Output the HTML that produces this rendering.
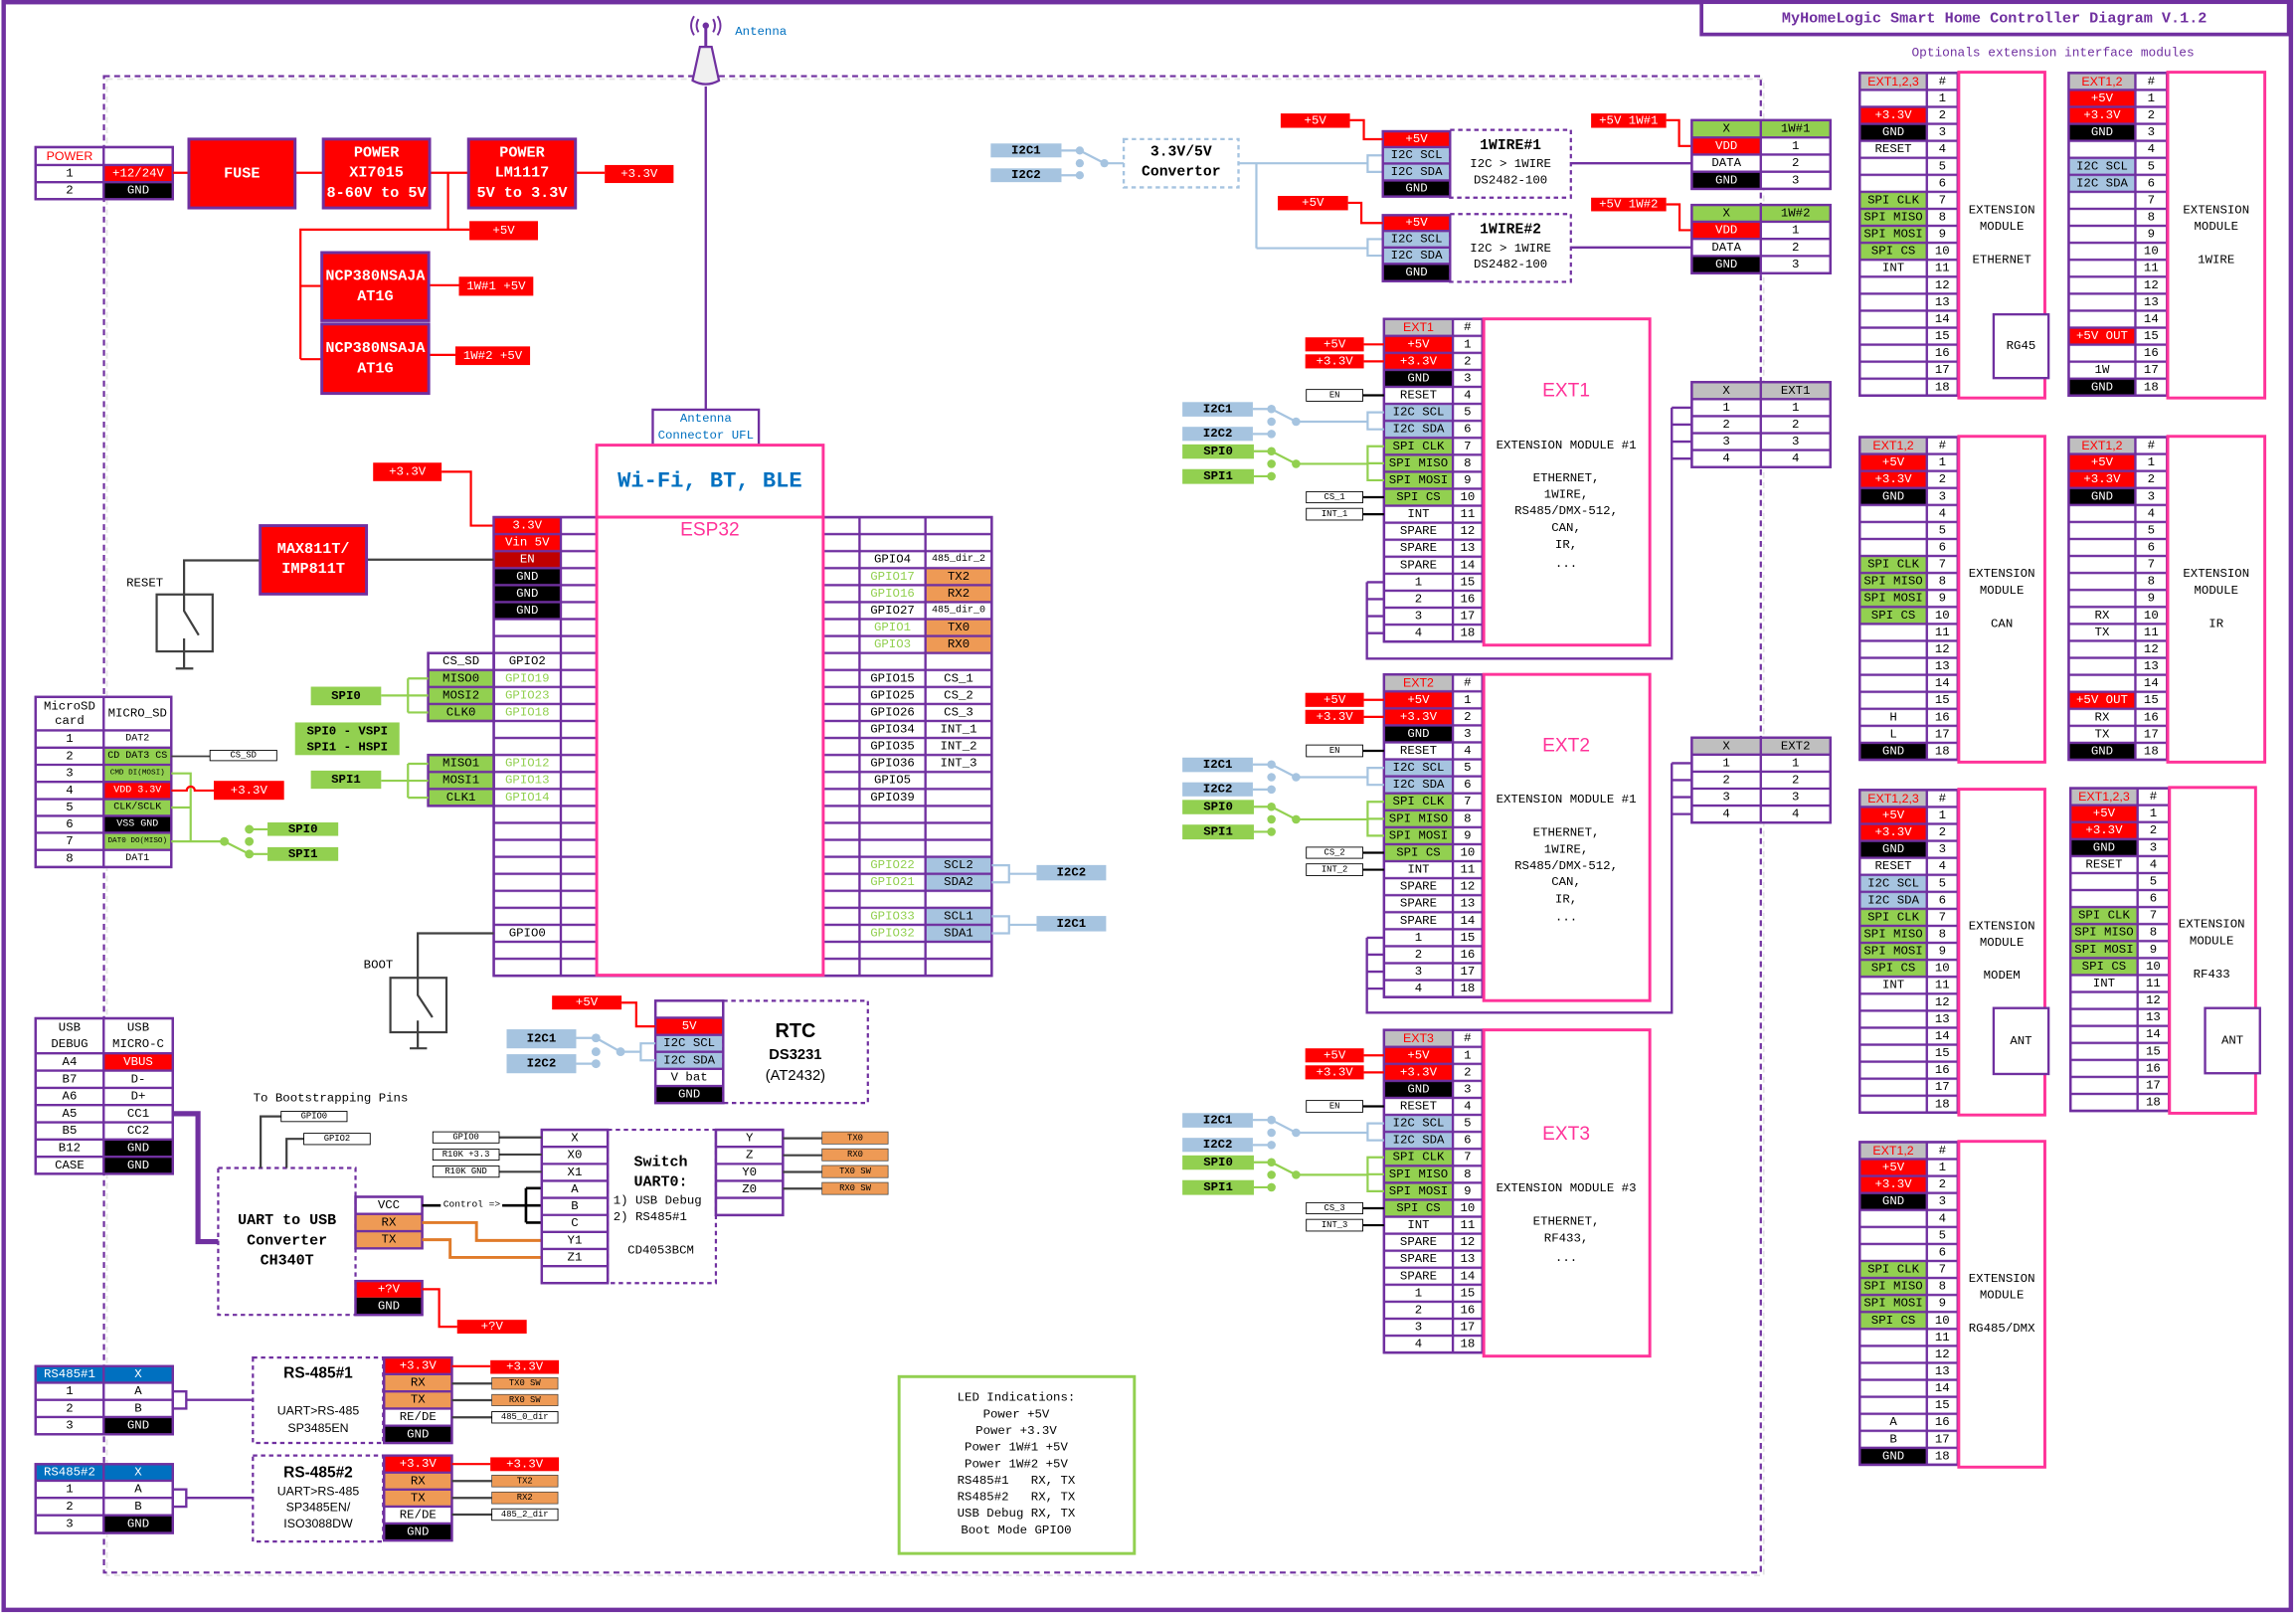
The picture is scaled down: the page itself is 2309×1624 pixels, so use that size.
<!DOCTYPE html>
<html><head><meta charset="utf-8">
<style>
html,body{margin:0;padding:0;background:#fff;}
svg{display:block;}
text{font-family:"Liberation Mono","DejaVu Sans Mono",monospace;font-size:8.4px;text-anchor:middle;dominant-baseline:central;fill:#000;}
.w{fill:#fff}.bd{font-weight:bold}.s6{font-size:6px}.s7{font-size:6.8px}.s5{font-size:5.2px}
.big{font-size:10.3px;font-weight:bold;fill:#fff}
.sans{font-family:"Liberation Sans",sans-serif}
.tr{fill:#f00}.tg{fill:#92D050}.tbl{fill:#0070C0}.tp{fill:#7030A0}.tpk{fill:#FF3399}
.tb{fill:#fff;stroke:#7030A0;stroke-width:1.6}
.ot{fill:none;stroke:#7030A0;stroke-width:1.6}
.pk{fill:#fff;stroke:#FF3399;stroke-width:2}
.pb{fill:#f00;stroke:#7030A0;stroke-width:2}
.r{fill:#f00}.k{fill:#000}.gn{fill:#92D050}.bu{fill:#A6C4E0}.or{fill:#EE9A55}.gy{fill:#BFBFBF}.dr{fill:#C00000}.b2{fill:#0070C0}
.lr{stroke:#f00;stroke-width:1.5;fill:none}
.lb{stroke:#A6C4E0;stroke-width:1.5;fill:none}
.lg{stroke:#92D050;stroke-width:1.5;fill:none}
.lk{stroke:#404040;stroke-width:1.5;fill:none}
.lp{stroke:#7030A0;stroke-width:1.6;fill:none}
.lo{stroke:#E07B2A;stroke-width:2;fill:none}
.dp{fill:none;stroke:#7030A0;stroke-width:1.5;stroke-dasharray:3 2.5}
.lab{stroke:#000;stroke-width:0.6;fill:#fff}
.cb{fill:#A6C4E0}.cg{fill:#92D050}
</style></head><body>
<svg width="2309" height="1624" viewBox="0 0 1568 1103" preserveAspectRatio="none" xmlns="http://www.w3.org/2000/svg">
<defs>
<pattern id="rows" width="4000" height="11.6" patternUnits="userSpaceOnUse">
<rect width="4000" height="0.8" fill="#7030A0"/><rect y="10.8" width="4000" height="0.8" fill="#7030A0"/>
</pattern>
</defs>
<rect width="1568" height="1103" fill="#fff"/>
<!-- frames -->
<rect x="2.5" y="1.5" width="1562" height="1098" fill="none" stroke="#7030A0" stroke-width="3"/>
<rect x="73" y="54" width="1131.5" height="1022" fill="none" stroke="#e4e4e4" stroke-width="1.2" stroke-dasharray="4 3"/>
<rect x="71" y="52" width="1131.5" height="1022" fill="none" stroke="#7030A0" stroke-width="1.5" stroke-dasharray="4 3"/>
<!-- title -->
<rect x="1162" y="1.5" width="401" height="22" fill="#fff" stroke="#7030A0" stroke-width="2.5"/>
<text x="1362" y="12.5" class="bd tp" style="font-size:10.3px">MyHomeLogic Smart Home Controller Diagram V.1.2</text>
<text x="1402" y="36" class="tp" style="font-size:8.7px">Optionals extension interface modules</text>

<!-- POWER section -->
<rect class="tb" x="24.3" y="100.5" width="93.7" height="35.5"/>
<rect class="r" x="70.8" y="112.7" width="47.2" height="11.7"/>
<rect class="k" x="70.8" y="124.4" width="47.2" height="11.6"/>
<path class="lp" d="M24.3 112.7H118M24.3 124.4H118M70.8 100.5V136"/>
<rect class="ot" x="24.3" y="100.5" width="93.7" height="35.5"/>
<text x="47.5" y="106.6" class="tr sans">POWER</text>
<text x="47.5" y="118.5">1</text><text x="94.4" y="118.5" class="w">+12/24V</text>
<text x="47.5" y="130.2">2</text><text x="94.4" y="130.2" class="w">GND</text>
<path class="lr" d="M118 118H129M201.5 118H220.8M293.4 118H320M306 118V156.8H320.6M306 156.8H205.2V245.3M205.2 195.3H219.8M205.2 245.3H219.8M292.8 194.8H313.4M292.8 242.4H311M393 118H413"/>
<rect class="pb" x="129" y="95" width="72.5" height="47"/>
<text x="165.2" y="118.5" class="big">FUSE</text>
<rect class="pb" x="220.8" y="95" width="72.6" height="47"/>
<text x="257.1" y="104.3" class="big">POWER</text><text x="257.1" y="118" class="big">XI7015</text><text x="257.1" y="131.7" class="big">8-60V to 5V</text>
<rect class="pb" x="320" y="95" width="73" height="47"/>
<text x="356.5" y="104.3" class="big">POWER</text><text x="356.5" y="118" class="big">LM1117</text><text x="356.5" y="131.7" class="big">5V to 3.3V</text>
<rect class="pb" x="219.8" y="172.5" width="73" height="46.5"/>
<text x="256.3" y="188.6" class="big">NCP380NSAJA</text><text x="256.3" y="202.3" class="big">AT1G</text>
<rect class="pb" x="219.8" y="221.3" width="73" height="47.4"/>
<text x="256.3" y="237.7" class="big">NCP380NSAJA</text><text x="256.3" y="251.6" class="big">AT1G</text>
<rect class="r" x="320.6" y="151" width="46.8" height="13"/><text x="344" y="157.5" class="w">+5V</text>
<rect class="r" x="313.4" y="189" width="50.8" height="13"/><text x="338.8" y="195.5" class="w">1W#1 +5V</text>
<rect class="r" x="311" y="236.6" width="51" height="12.7"/><text x="336.5" y="243" class="w">1W#2 +5V</text>
<rect class="r" x="413" y="112.7" width="47" height="12.3"/><text x="436.5" y="118.8" class="w">+3.3V</text>
<rect class="r" x="254.8" y="316" width="46.8" height="12.6"/><text x="278.2" y="322.3" class="w">+3.3V</text>
<path class="lr" d="M301.6 322.2H321.6V359H337.2"/>

<!-- Antenna -->
<path class="lp" d="M482 59V280"/>
<path d="M482 17V33" stroke="#7030A0" stroke-width="2" fill="none"/>
<circle cx="482" cy="17.5" r="2.2" fill="#7030A0"/>
<path d="M477 13Q474.5 17.5 477 22M474 11Q470 17.5 474 24M487 13Q489.5 17.5 487 22M490 11Q494 17.5 490 24" stroke="#7030A0" stroke-width="1.3" fill="none"/>
<path d="M478 32H486L491 55Q482 60 473 55Z" fill="#f0f0f0" stroke="#7030A0" stroke-width="1.5"/>
<text x="502" y="21.6" class="tbl" style="text-anchor:start">Antenna</text>
<rect class="tb" x="445.8" y="279.8" width="72.4" height="24.2"/>
<text x="482" y="286" class="tbl">Antenna</text><text x="482" y="297.5" class="tbl">Connector UFL</text>

<!-- ESP32 table -->
<g transform="translate(337.2,353.2)">
<rect class="tb" width="340.1" height="313.2"/>
<rect class="r" width="45.8" height="23.2"/>
<rect class="dr" y="23.2" width="45.8" height="11.6"/>
<rect class="k" y="34.8" width="45.8" height="34.8"/>
<rect class="or" x="294.8" y="34.8" width="45.3" height="23.2"/>
<rect class="or" x="294.8" y="69.6" width="45.3" height="23.2"/>
<rect class="bu" x="294.8" y="232" width="45.3" height="23.2"/>
<rect class="bu" x="294.8" y="266.8" width="45.3" height="23.2"/>
<rect class="tb" x="-44.8" y="92.8" width="44.8" height="46.4"/>
<rect class="tb" x="-44.8" y="162.4" width="44.8" height="34.8"/>
<rect class="gn" x="-44.8" y="104.4" width="44.8" height="34.8"/>
<rect class="gn" x="-44.8" y="162.4" width="44.8" height="34.8"/>
<rect width="340.1" height="314" fill="url(#rows)"/>
<rect x="-44.8" y="92.8" width="44.8" height="47.2" fill="url(#rows)"/>
<rect x="-44.8" y="162.4" width="44.8" height="35.6" fill="url(#rows)"/>
<path class="lp" d="M45.8 0V313.2M70.3 0V313.2M225 0V313.2M249.8 0V313.2M294.8 0V313.2"/>
<rect class="ot" width="340.1" height="313.2"/>
<rect class="ot" x="-44.8" y="92.8" width="44.8" height="46.4"/>
<rect class="ot" x="-44.8" y="162.4" width="44.8" height="34.8"/>
<text x="22.9" y="5.8" class="w">3.3V</text>
<text x="22.9" y="17.4" class="w">Vin 5V</text>
<text x="22.9" y="29" class="w">EN</text>
<text x="22.9" y="40.6" class="w">GND</text>
<text x="22.9" y="52.2" class="w">GND</text>
<text x="22.9" y="63.8" class="w">GND</text>
<text x="22.9" y="98.6">GPIO2</text>
<text x="22.9" y="110.2" class="tg">GPIO19</text>
<text x="22.9" y="121.8" class="tg">GPIO23</text>
<text x="22.9" y="133.4" class="tg">GPIO18</text>
<text x="22.9" y="168.2" class="tg">GPIO12</text>
<text x="22.9" y="179.8" class="tg">GPIO13</text>
<text x="22.9" y="191.4" class="tg">GPIO14</text>
<text x="22.9" y="284.2">GPIO0</text>
<text x="-22.4" y="98.6">CS_SD</text>
<text x="-22.4" y="110.2">MISO0</text>
<text x="-22.4" y="121.8">MOSI2</text>
<text x="-22.4" y="133.4">CLK0</text>
<text x="-22.4" y="168.2">MISO1</text>
<text x="-22.4" y="179.8">MOSI1</text>
<text x="-22.4" y="191.4">CLK1</text>
<text x="272.3" y="29">GPIO4</text><text x="317.45" y="29" class="s7">485_dir_2</text>
<text x="272.3" y="40.6" class="tg">GPIO17</text><text x="317.45" y="40.6">TX2</text>
<text x="272.3" y="52.2" class="tg">GPIO16</text><text x="317.45" y="52.2">RX2</text>
<text x="272.3" y="63.8">GPIO27</text><text x="317.45" y="63.8" class="s7">485_dir_0</text>
<text x="272.3" y="75.4" class="tg">GPIO1</text><text x="317.45" y="75.4">TX0</text>
<text x="272.3" y="87" class="tg">GPIO3</text><text x="317.45" y="87">RX0</text>
<text x="272.3" y="110.2">GPIO15</text><text x="317.45" y="110.2">CS_1</text>
<text x="272.3" y="121.8">GPIO25</text><text x="317.45" y="121.8">CS_2</text>
<text x="272.3" y="133.4">GPIO26</text><text x="317.45" y="133.4">CS_3</text>
<text x="272.3" y="145">GPIO34</text><text x="317.45" y="145">INT_1</text>
<text x="272.3" y="156.6">GPIO35</text><text x="317.45" y="156.6">INT_2</text>
<text x="272.3" y="168.2">GPIO36</text><text x="317.45" y="168.2">INT_3</text>
<text x="272.3" y="179.8">GPIO5</text>
<text x="272.3" y="191.4">GPIO39</text>
<text x="272.3" y="237.8" class="tg">GPIO22</text><text x="317.45" y="237.8">SCL2</text>
<text x="272.3" y="249.4" class="tg">GPIO21</text><text x="317.45" y="249.4">SDA2</text>
<text x="272.3" y="272.6" class="tg">GPIO33</text><text x="317.45" y="272.6">SCL1</text>
<text x="272.3" y="284.2" class="tg">GPIO32</text><text x="317.45" y="284.2">SDA1</text>
</g>
<rect class="pk" x="407.5" y="304" width="154.7" height="49.2"/>
<text x="484.8" y="328.6" class="bd tbl" style="font-size:15px">Wi-Fi, BT, BLE</text>
<rect class="pk" x="407.5" y="353.2" width="154.7" height="312.8"/>
<text x="484.8" y="362" class="sans tpk" style="font-size:13px">ESP32</text>

<!-- ESP right I2C -->
<path class="lb" d="M677.3 591H689.1V602.6H677.3M689.1 596.8H707.9M677.3 625.8H689.1V637.4H677.3M689.1 631.6H707.9"/>
<rect class="bu" x="707.9" y="590.8" width="47.5" height="10.5"/><text x="731.6" y="596" class="bd">I2C2</text>
<rect class="bu" x="707.9" y="625.6" width="47.5" height="10.5"/><text x="731.6" y="630.8" class="bd">I2C1</text>

<!-- SPI left of ESP -->
<path class="lg" d="M260.3 475H278.6M278.6 463.4V486.6M278.6 463.4H292.4M278.6 475H292.4M278.6 486.6H292.4M260.3 533.2H278.6M278.6 521.6V544.8M278.6 521.6H292.4M278.6 533.2H292.4M278.6 544.8H292.4"/>
<rect class="gn" x="212.3" y="469" width="48" height="12.7"/><text x="236.3" y="475.3" class="bd">SPI0</text>
<rect class="gn" x="212.3" y="526.3" width="48" height="12.4"/><text x="236.3" y="532.5" class="bd">SPI1</text>
<rect class="gn" x="201.5" y="493.4" width="71.3" height="22.3"/>
<text x="237.2" y="499.6" class="bd">SPI0 - VSPI</text><text x="237.2" y="510.5" class="bd">SPI1 - HSPI</text>

<!-- MAX811 / RESET -->
<path class="lk" d="M250.3 382.2H337.2M177.7 382.7H125.7V406"/>
<rect class="pb" x="177.7" y="359" width="72.6" height="46.7"/>
<text x="214" y="375" class="big">MAX811T/</text><text x="214" y="388.5" class="big">IMP811T</text>
<text x="98.9" y="398.4">RESET</text>
<rect x="107" y="406" width="38.2" height="38.9" fill="#fff" stroke="#404040" stroke-width="1.5"/>
<path class="lk" d="M125.7 406V417.2L135.7 433.8M125.7 436V456.6M120 456.6H132"/>
<!-- BOOT -->
<path class="lk" d="M337.2 637.4H285.3V667.8"/>
<text x="258.4" y="659">BOOT</text>
<rect x="266.6" y="667.8" width="38.3" height="37.2" fill="#fff" stroke="#404040" stroke-width="1.5"/>
<path class="lk" d="M285.3 667.8V679.6L295.3 694.8M285.3 697V716M279.8 716H291.6"/>

<!-- MicroSD -->
<rect class="tb" x="24.3" y="476" width="92.7" height="116.2"/>
<rect class="gn" x="70.8" y="510.6" width="46.2" height="23.4"/>
<rect class="r" x="70.8" y="534" width="46.2" height="11.8"/>
<rect class="gn" x="70.8" y="545.8" width="46.2" height="11.4"/>
<rect class="k" x="70.8" y="557.2" width="46.2" height="11.6"/>
<rect class="gn" x="70.8" y="568.8" width="46.2" height="11.7"/>
<path class="lp" d="M24.3 498.8H117M24.3 510.6H117M24.3 522.3H117M24.3 534H117M24.3 545.8H117M24.3 557.2H117M24.3 568.8H117M24.3 580.5H117M70.8 476V592.2"/>
<rect class="ot" x="24.3" y="476" width="92.7" height="116.2"/>
<text x="47.5" y="482.5">MicroSD</text><text x="47.5" y="492.5">card</text>
<text x="93.9" y="487.4">MICRO_SD</text>
<text x="47.5" y="504.7">1</text><text x="93.9" y="504.7" class="s7">DAT2</text>
<text x="47.5" y="516.5">2</text><text x="93.9" y="516.5" class="s7">CD DAT3 CS</text>
<text x="47.5" y="528.2">3</text><text x="93.9" y="528.2" class="s5">CMD DI(MOSI)</text>
<text x="47.5" y="539.9">4</text><text x="93.9" y="539.9" class="s7 w">VDD 3.3V</text>
<text x="47.5" y="551.5">5</text><text x="93.9" y="551.5" class="s7">CLK/SCLK</text>
<text x="47.5" y="563">6</text><text x="93.9" y="563" class="s7 w">VSS GND</text>
<text x="47.5" y="574.7">7</text><text x="93.9" y="574.7" class="s5">DAT0 DO(MISO)</text>
<text x="47.5" y="586.4">8</text><text x="93.9" y="586.4" class="s7">DAT1</text>
<path d="M117 516.5H143.4" stroke="#404040" stroke-width="1.2"/>
<rect class="lab" x="143.4" y="512.4" width="45.6" height="7.1"/><text x="166.2" y="516" class="s6">CS_SD</text>
<path class="lg" d="M117 528.2H130.2V574.7M117 551.5H130.2M117 574.7H153.2L170.2 583.3M170.2 566.4H182.7M170.2 583.3H182.7"/>
<path class="lr" d="M117 539.9H127.5A2.75 2.75 0 0 1 133 539.9H146"/>
<rect class="r" x="146" y="533.3" width="48" height="12.9"/><text x="170" y="539.9" class="w">+3.3V</text>
<circle class="cg" cx="153.2" cy="574.7" r="3"/><circle class="cg" cx="170.2" cy="566.4" r="3"/><circle class="cg" cx="170.2" cy="574.7" r="3"/><circle class="cg" cx="170.2" cy="583.3" r="3"/>
<rect class="gn" x="182.7" y="561.7" width="48.3" height="9.2"/><text x="206.9" y="566.3" class="bd">SPI0</text>
<rect class="gn" x="182.7" y="578.6" width="48.3" height="9.4"/><text x="206.9" y="583.3" class="bd">SPI1</text>

<!-- USB -->
<rect class="tb" x="24.3" y="695.5" width="93.7" height="106.2"/>
<rect class="r" x="70.8" y="719.4" width="47.2" height="11.8"/>
<rect class="k" x="70.8" y="778.2" width="47.2" height="23.5"/>
<path class="lp" d="M24.3 719.4H118M24.3 731.2H118M24.3 743H118M24.3 754.7H118M24.3 766.5H118M24.3 778.2H118M24.3 790H118M70.8 695.5V801.7"/>
<rect class="ot" x="24.3" y="695.5" width="93.7" height="106.2"/>
<text x="47.5" y="702">USB</text><text x="47.5" y="713">DEBUG</text>
<text x="94.4" y="702">USB</text><text x="94.4" y="713">MICRO-C</text>
<text x="47.5" y="725.3">A4</text><text x="94.4" y="725.3" class="w">VBUS</text>
<text x="47.5" y="737.1">B7</text><text x="94.4" y="737.1">D-</text>
<text x="47.5" y="748.9">A6</text><text x="94.4" y="748.9">D+</text>
<text x="47.5" y="760.6">A5</text><text x="94.4" y="760.6">CC1</text>
<text x="47.5" y="772.4">B5</text><text x="94.4" y="772.4">CC2</text>
<text x="47.5" y="784.1">B12</text><text x="94.4" y="784.1" class="w">GND</text>
<text x="47.5" y="795.9">CASE</text><text x="94.4" y="795.9" class="w">GND</text>
<path d="M118 760.6H135.2V848H149" stroke="#7030A0" stroke-width="3.5" fill="none"/>

<!-- UART to USB -->
<rect class="dp" x="149" y="797.7" width="93.8" height="100.3"/>
<text x="196" y="833.8" class="bd" style="font-size:10.2px">UART to USB</text>
<text x="196" y="847.5" class="bd" style="font-size:10.2px">Converter</text>
<text x="196" y="861.1" class="bd" style="font-size:10.2px">CH340T</text>
<text x="225.8" y="750">To Bootstrapping Pins</text>
<path class="lk" d="M178 797.7V762.5H192M195.7 797.7V777.8H207.5"/>
<rect class="lab" x="192" y="759" width="45" height="7"/><text x="214.5" y="762.5" class="s6">GPIO0</text>
<rect class="lab" x="207.5" y="774" width="45.3" height="7.7"/><text x="230.2" y="777.8" class="s6">GPIO2</text>
<rect class="tb" x="242.8" y="817.4" width="45.5" height="35.2"/>
<rect class="or" x="242.8" y="829.1" width="45.5" height="23.5"/>
<path class="lp" d="M242.8 829.1H288.3M242.8 840.9H288.3"/>
<rect class="ot" x="242.8" y="817.4" width="45.5" height="35.2"/>
<text x="265.5" y="823.3">VCC</text><text x="265.5" y="835">RX</text><text x="265.5" y="846.7">TX</text>
<rect class="tb" x="242.8" y="874.9" width="45.5" height="23.1"/>
<rect class="r" x="242.8" y="874.9" width="45.5" height="11.3"/>
<rect class="k" x="242.8" y="886.2" width="45.5" height="11.8"/>
<rect class="ot" x="242.8" y="874.9" width="45.5" height="23.1"/>
<text x="265.5" y="880.5" class="w">+?V</text><text x="265.5" y="892.1" class="w">GND</text>
<path d="M288.3 823.3H301M343 823.3H359.2M359.2 811.5V835M359.2 811.5H370M359.2 823.3H370M359.2 835H370" stroke="#000" stroke-width="1.8" fill="none"/>
<text x="322.2" y="822.6" style="font-size:6.5px">Control =&gt;</text>
<path class="lo" d="M288.3 835H325.4V847.2H370M288.3 846.7H307.4V858.8H370"/>
<path class="lr" d="M288.3 880.5H299.9V906.1H312.2"/>
<rect class="r" x="312.2" y="901.4" width="47.5" height="9.4"/><text x="336" y="906.1" class="w">+?V</text>

<!-- Switch CD4053 -->
<rect class="tb" x="370" y="771.6" width="45" height="104.7"/>
<path class="lp" d="M370 783.2H415M370 794.9H415M370 806.5H415M370 818.1H415M370 829.8H415M370 841.4H415M370 853H415M370 864.7H415"/>
<rect class="ot" x="370" y="771.6" width="45" height="104.7"/>
<text x="392.5" y="777.4">X</text><text x="392.5" y="789">X0</text><text x="392.5" y="800.7">X1</text><text x="392.5" y="812.3">A</text><text x="392.5" y="823.9">B</text><text x="392.5" y="835.5">C</text><text x="392.5" y="847.2">Y1</text><text x="392.5" y="858.8">Z1</text>
<rect class="dp" x="415" y="771.6" width="73.9" height="104.7"/>
<rect class="tb" x="488.9" y="771.6" width="45.8" height="58.3"/>
<path class="lp" d="M488.9 783.2H534.7M488.9 794.9H534.7M488.9 806.5H534.7M488.9 818.1H534.7"/>
<rect class="ot" x="488.9" y="771.6" width="45.8" height="58.3"/>
<text x="511.8" y="777.4">Y</text><text x="511.8" y="789">Z</text><text x="511.8" y="800.7">Y0</text><text x="511.8" y="812.3">Z0</text>
<text x="451.3" y="794" class="bd" style="font-size:10.2px">Switch</text>
<text x="451.3" y="807.6" class="bd" style="font-size:10.2px">UART0:</text>
<text x="418.8" y="820" style="text-anchor:start">1) USB Debug</text>
<text x="418.8" y="831.5" style="text-anchor:start">2) RS485#1</text>
<text x="451.3" y="854">CD4053BCM</text>
<path class="lk" d="M340.9 776.8H370M340.9 788.5H370M340.9 800.3H370M534.7 777.4H561.4M534.7 789H561.4M534.7 800.4H561.4M534.7 811.8H561.4"/>
<rect class="lab" x="295.6" y="773" width="45.3" height="7.6"/><text x="318.2" y="776.8" class="s6">GPIO0</text>
<rect class="lab" x="295.6" y="784.8" width="45.3" height="7.5"/><text x="318.2" y="788.5" class="s6">R10K +3.3</text>
<rect class="lab" x="295.6" y="796.3" width="45.3" height="7.7"/><text x="318.2" y="800.1" class="s6">R10K GND</text>
<rect x="561.4" y="773" width="45.1" height="8.3" fill="#EE9A55" stroke="#404040" stroke-width="0.5"/><text x="584" y="777.2" class="s6">TX0</text>
<rect x="561.4" y="784.6" width="45.1" height="8.2" fill="#EE9A55" stroke="#404040" stroke-width="0.5"/><text x="584" y="788.7" class="s6">RX0</text>
<rect x="561.4" y="796" width="45.1" height="8.3" fill="#EE9A55" stroke="#404040" stroke-width="0.5"/><text x="584" y="800.2" class="s6">TX0 SW</text>
<rect x="561.4" y="807.6" width="45.1" height="8.2" fill="#EE9A55" stroke="#404040" stroke-width="0.5"/><text x="584" y="811.7" class="s6">RX0 SW</text>

<!-- RTC -->
<rect class="tb" x="447.6" y="683.5" width="46.3" height="69.8"/>
<rect class="r" x="447.6" y="695.1" width="46.3" height="11.7"/>
<rect class="bu" x="447.6" y="706.8" width="46.3" height="23.2"/>
<rect class="k" x="447.6" y="741.7" width="46.3" height="11.6"/>
<path class="lp" d="M447.6 695.1H493.9M447.6 706.8H493.9M447.6 718.4H493.9M447.6 730H493.9M447.6 741.7H493.9"/>
<rect class="ot" x="447.6" y="683.5" width="46.3" height="69.8"/>
<text x="470.7" y="701" class="w">5V</text><text x="470.7" y="712.6">I2C SCL</text><text x="470.7" y="724.2">I2C SDA</text><text x="470.7" y="735.9">V bat</text><text x="470.7" y="747.5" class="w">GND</text>
<rect class="dp" x="493.9" y="683.5" width="98.8" height="69.8"/>
<text x="543.2" y="704.2" class="sans bd" style="font-size:13.5px">RTC</text>
<text x="543.2" y="720.6" class="sans bd" style="font-size:10px">DS3231</text>
<text x="543.2" y="735" class="sans" style="font-size:10px">(AT2432)</text>
<rect class="r" x="377" y="680" width="47.5" height="9.5"/><text x="400.7" y="684.8" class="w">+5V</text>
<path class="lr" d="M424.5 684.8H434.5V701H447.6"/>
<rect class="bu" x="346" y="703" width="47.5" height="13"/><text x="369.7" y="709.5" class="bd">I2C1</text>
<rect class="bu" x="346" y="720" width="47.5" height="13"/><text x="369.7" y="726.5" class="bd">I2C2</text>
<path class="lb" d="M393.5 708.9H407M393.5 726.5H407M407 708.9L423.8 718.3H437.6M447.6 712.6H437.6V724.2H447.6"/>
<circle class="cb" cx="407" cy="708.9" r="3"/><circle class="cb" cx="407" cy="718.3" r="3"/><circle class="cb" cx="407" cy="726.5" r="3"/><circle class="cb" cx="423.8" cy="718.3" r="3"/>

<!-- RS485 #1 -->
<rect class="tb" x="24.3" y="933.1" width="93.7" height="46.5"/>
<rect class="b2" x="24.3" y="933.1" width="93.7" height="11.3"/>
<rect class="k" x="70.8" y="967.8" width="47.2" height="11.8"/>
<path class="lp" d="M24.3 944.4H118M24.3 956.1H118M24.3 967.8H118M70.8 933.1V979.6"/>
<rect class="ot" x="24.3" y="933.1" width="93.7" height="46.5"/>
<text x="47.5" y="938.8" class="w">RS485#1</text><text x="94.4" y="938.8" class="w">X</text>
<text x="47.5" y="950.3">1</text><text x="94.4" y="950.3">A</text>
<text x="47.5" y="962">2</text><text x="94.4" y="962">B</text>
<text x="47.5" y="973.7">3</text><text x="94.4" y="973.7" class="w">GND</text>
<path class="lp" d="M118 950.3H127.2V962H118M127.2 956.1H172.7"/>
<rect class="dp" x="172.7" y="927.2" width="88.9" height="58.3"/>
<text x="217.3" y="937.8" class="sans bd" style="font-size:10.5px">RS-485#1</text>
<text x="217.3" y="963.6" class="sans">UART&gt;RS-485</text>
<text x="217.3" y="975.4" class="sans">SP3485EN</text>
<rect class="tb" x="262.3" y="927.2" width="46.3" height="58.3"/>
<rect class="r" x="262.3" y="927.2" width="46.3" height="11.3"/>
<rect class="or" x="262.3" y="938.5" width="46.3" height="23.5"/>
<rect class="k" x="262.3" y="973.7" width="46.3" height="11.8"/>
<path class="lp" d="M262.3 938.5H308.6M262.3 950.3H308.6M262.3 962H308.6M262.3 973.7H308.6"/>
<rect class="ot" x="262.3" y="927.2" width="46.3" height="58.3"/>
<text x="285.4" y="932.9" class="w">+3.3V</text><text x="285.4" y="944.4">RX</text><text x="285.4" y="956.1">TX</text><text x="285.4" y="967.8">RE/DE</text><text x="285.4" y="979.6" class="w">GND</text>
<path class="lr" d="M308.6 933.1H334.9"/>
<path class="lk" d="M308.6 944.9H335.9M308.6 956.3H335.9M308.6 968H335.9"/>
<rect class="r" x="334.9" y="929" width="46.8" height="9.3"/><text x="358.3" y="933.6" class="w">+3.3V</text>
<rect x="335.9" y="940.9" width="45.1" height="7.9" fill="#EE9A55" stroke="#404040" stroke-width="0.5"/><text x="358.4" y="944.9" class="s6">TX0 SW</text>
<rect x="335.9" y="952.4" width="45.1" height="7.7" fill="#EE9A55" stroke="#404040" stroke-width="0.5"/><text x="358.4" y="956.3" class="s6">RX0 SW</text>
<rect class="lab" x="335.9" y="964.1" width="45.1" height="7.8"/><text x="358.4" y="968" class="s6">485_0_dir</text>

<!-- RS485 #2 -->
<rect class="tb" x="24.3" y="1000" width="93.7" height="47"/>
<rect class="b2" x="24.3" y="1000" width="93.7" height="11.3"/>
<rect class="k" x="70.8" y="1034.9" width="47.2" height="12.1"/>
<path class="lp" d="M24.3 1011.3H118M24.3 1023H118M24.3 1034.9H118M70.8 1000V1047"/>
<rect class="ot" x="24.3" y="1000" width="93.7" height="47"/>
<text x="47.5" y="1005.7" class="w">RS485#2</text><text x="94.4" y="1005.7" class="w">X</text>
<text x="47.5" y="1017.2">1</text><text x="94.4" y="1017.2">A</text>
<text x="47.5" y="1029">2</text><text x="94.4" y="1029">B</text>
<text x="47.5" y="1041">3</text><text x="94.4" y="1041" class="w">GND</text>
<path class="lp" d="M118 1017.2H127.2V1029H118M127.2 1023H172.7"/>
<rect class="dp" x="172.7" y="994.1" width="88.9" height="58.7"/>
<text x="217.3" y="1005.9" class="sans bd" style="font-size:10.5px">RS-485#2</text>
<text x="217.3" y="1018.3" class="sans">UART&gt;RS-485</text>
<text x="217.3" y="1029.3" class="sans">SP3485EN/</text>
<text x="217.3" y="1040.6" class="sans">ISO3088DW</text>
<rect class="tb" x="262.3" y="994.1" width="46.3" height="58"/>
<rect class="r" x="262.3" y="994.1" width="46.3" height="11.6"/>
<rect class="or" x="262.3" y="1005.7" width="46.3" height="23.2"/>
<rect class="k" x="262.3" y="1040.5" width="46.3" height="11.6"/>
<path class="lp" d="M262.3 1005.7H308.6M262.3 1017.3H308.6M262.3 1028.9H308.6M262.3 1040.5H308.6"/>
<rect class="ot" x="262.3" y="994.1" width="46.3" height="58"/>
<text x="285.4" y="999.9" class="w">+3.3V</text><text x="285.4" y="1011.5">RX</text><text x="285.4" y="1023.1">TX</text><text x="285.4" y="1034.7">RE/DE</text><text x="285.4" y="1046.3" class="w">GND</text>
<path class="lr" d="M308.6 999.9H334.9"/>
<path class="lk" d="M308.6 1011.5H335.9M308.6 1023H335.9M308.6 1034.4H335.9"/>
<rect class="r" x="334.9" y="995.3" width="46.8" height="9.4"/><text x="358.3" y="1000" class="w">+3.3V</text>
<rect x="335.9" y="1007.5" width="45.1" height="8" fill="#EE9A55" stroke="#404040" stroke-width="0.5"/><text x="358.4" y="1011.5" class="s6">TX2</text>
<rect x="335.9" y="1019" width="45.1" height="8" fill="#EE9A55" stroke="#404040" stroke-width="0.5"/><text x="358.4" y="1023" class="s6">RX2</text>
<rect class="lab" x="335.9" y="1030.5" width="45.1" height="7.8"/><text x="358.4" y="1034.4" class="s6">485_2_dir</text>

<!-- LED box -->
<rect x="614" y="940.2" width="160.7" height="120.8" fill="#fff" stroke="#92D050" stroke-width="2"/>
<g style="white-space:pre">
<text x="694" y="954.7" xml:space="preserve">LED Indications:</text>
<text x="694" y="966" xml:space="preserve">Power +5V</text>
<text x="694" y="977.2" xml:space="preserve">Power +3.3V</text>
<text x="694" y="988.7" xml:space="preserve">Power 1W#1 +5V</text>
<text x="694" y="1000" xml:space="preserve">Power 1W#2 +5V</text>
<text x="694" y="1011.3" xml:space="preserve">RS485#1   RX, TX</text>
<text x="694" y="1022.5" xml:space="preserve">RS485#2   RX, TX</text>
<text x="694" y="1033.8" xml:space="preserve">USB Debug RX, TX</text>
<text x="694" y="1045.3" xml:space="preserve">Boot Mode GPIO0</text>
</g>

<!-- 1WIRE section -->
<rect class="bu" x="676.6" y="98" width="48.3" height="9.5"/><text x="700.7" y="102.8" class="bd">I2C1</text>
<rect class="bu" x="676.6" y="115" width="48.3" height="9.4"/><text x="700.7" y="119.7" class="bd">I2C2</text>
<path class="lb" d="M724.9 102.8H737.4M724.9 119.7H737.4M737.4 102.8L754.2 111.5H767.4M845.8 111.5H858V169.5M858 111.5H934M944.4 106.1H934V117.4H944.4M858 169.5H934M944.4 163.3H934V174.6H944.4"/>
<circle class="cb" cx="737.4" cy="102.8" r="2.8"/><circle class="cb" cx="737.4" cy="111.5" r="2.8"/><circle class="cb" cx="737.4" cy="119.7" r="2.8"/><circle class="cb" cx="754.2" cy="111.5" r="2.8"/>
<rect x="767.4" y="95" width="78.4" height="33" fill="#fff" stroke="#A6C4E0" stroke-width="1.6" stroke-dasharray="3 2.5"/>
<text x="806.6" y="104.3" class="bd" style="font-size:10px">3.3V/5V</text>
<text x="806.6" y="117.8" class="bd" style="font-size:10px">Convertor</text>

<rect class="tb" x="944.4" y="89.7" width="45.9" height="44.5"/>
<rect class="r" x="944.4" y="89.7" width="45.9" height="10.8"/>
<rect class="bu" x="944.4" y="100.5" width="45.9" height="22.7"/>
<rect class="k" x="944.4" y="123.2" width="45.9" height="11"/>
<path class="lp" d="M944.4 100.5H990.3M944.4 111.7H990.3M944.4 123.2H990.3"/>
<rect class="ot" x="944.4" y="89.7" width="45.9" height="44.5"/>
<text x="967.4" y="95.1" class="w">+5V</text><text x="967.4" y="106.1">I2C SCL</text><text x="967.4" y="117.4">I2C SDA</text><text x="967.4" y="128.7" class="w">GND</text>
<rect class="dp" x="990.3" y="88.7" width="82.5" height="46.3"/>
<text x="1031.6" y="99.7" class="bd" style="font-size:10px">1WIRE#1</text>
<text x="1031.6" y="112.2">I2C &gt; 1WIRE</text>
<text x="1031.6" y="123.2">DS2482-100</text>
<rect class="r" x="874.6" y="77.5" width="47.3" height="9.8"/><text x="898.2" y="82.4" class="w">+5V</text>
<path class="lr" d="M921.9 82.1H931.4V95.1H944.4"/>

<rect class="tb" x="944.4" y="147" width="45.9" height="45"/>
<rect class="r" x="944.4" y="147" width="45.9" height="10.7"/>
<rect class="bu" x="944.4" y="157.7" width="45.9" height="22.5"/>
<rect class="k" x="944.4" y="180.2" width="45.9" height="11.8"/>
<path class="lp" d="M944.4 157.7H990.3M944.4 169H990.3M944.4 180.2H990.3"/>
<rect class="ot" x="944.4" y="147" width="45.9" height="45"/>
<text x="967.4" y="152.3" class="w">+5V</text><text x="967.4" y="163.3">I2C SCL</text><text x="967.4" y="174.6">I2C SDA</text><text x="967.4" y="186.1" class="w">GND</text>
<rect class="dp" x="990.3" y="146.2" width="82.5" height="46.3"/>
<text x="1031.6" y="157.3" class="bd" style="font-size:10px">1WIRE#2</text>
<text x="1031.6" y="169.8">I2C &gt; 1WIRE</text>
<text x="1031.6" y="180.8">DS2482-100</text>
<rect class="r" x="872.6" y="133.8" width="48" height="9.8"/><text x="896.6" y="138.7" class="w">+5V</text>
<path class="lr" d="M920.6 138.5H929.7V152.3H944.4"/>

<path class="lp" d="M1072.8 111.5H1155.4M1072.8 169H1155.4"/>
<rect class="r" x="1086.6" y="77.5" width="51.3" height="9.8"/><text x="1112.2" y="82.4" class="w">+5V 1W#1</text>
<path class="lr" d="M1137.9 82.1H1146.7V99.7H1155.4"/>
<rect class="r" x="1086.6" y="135" width="51.3" height="9.3"/><text x="1112.2" y="139.6" class="w">+5V 1W#2</text>
<path class="lr" d="M1137.9 139.6H1147V157.2H1155.4"/>

<rect class="tb" x="1155.4" y="82.1" width="94.6" height="46.9"/>
<rect class="gn" x="1155.4" y="82.1" width="94.6" height="11.8"/>
<rect class="r" x="1155.4" y="93.9" width="47.1" height="11.7"/>
<rect class="k" x="1155.4" y="117.3" width="47.1" height="11.7"/>
<path class="lp" d="M1155.4 93.9H1250M1155.4 105.6H1250M1155.4 117.3H1250M1202.5 82.1V129"/>
<rect class="ot" x="1155.4" y="82.1" width="94.6" height="46.9"/>
<text x="1179" y="88">X</text><text x="1226.2" y="88">1W#1</text>
<text x="1179" y="99.7" class="w">VDD</text><text x="1226.2" y="99.7">1</text>
<text x="1179" y="111.5">DATA</text><text x="1226.2" y="111.5">2</text>
<text x="1179" y="123.2" class="w">GND</text><text x="1226.2" y="123.2">3</text>

<rect class="tb" x="1155.4" y="140" width="94.6" height="46.6"/>
<rect class="gn" x="1155.4" y="140" width="94.6" height="11.4"/>
<rect class="r" x="1155.4" y="151.4" width="47.1" height="11.7"/>
<rect class="k" x="1155.4" y="174.8" width="47.1" height="11.8"/>
<path class="lp" d="M1155.4 151.4H1250M1155.4 163.1H1250M1155.4 174.8H1250M1202.5 140V186.6"/>
<rect class="ot" x="1155.4" y="140" width="94.6" height="46.6"/>
<text x="1179" y="145.7">X</text><text x="1226.2" y="145.7">1W#2</text>
<text x="1179" y="157.2" class="w">VDD</text><text x="1226.2" y="157.2">1</text>
<text x="1179" y="169">DATA</text><text x="1226.2" y="169">2</text>
<text x="1179" y="180.7" class="w">GND</text><text x="1226.2" y="180.7">3</text>

<!-- EXT1 -->
<g transform="translate(945.2,217.8)">
<rect class="tb" width="67.1" height="220.4"/>
<rect class="gy" width="47" height="11.6"/>
<rect class="r" y="11.6" width="47" height="23.2"/>
<rect class="k" y="34.8" width="47" height="11.6"/>
<rect class="bu" y="58" width="47" height="23.2"/>
<rect class="gn" y="81.2" width="47" height="46.4"/>
<rect width="67.1" height="221.2" fill="url(#rows)"/>
<path class="lp" d="M47 0V220.4"/>
<rect class="ot" width="67.1" height="220.4"/>
<rect class="pk" x="68.1" y="0" width="113.4" height="222.8"/>
<text x="23.5" y="5.8" class="tr sans">EXT1</text>
<text x="23.5" y="17.4" class="w">+5V</text><text x="23.5" y="29" class="w">+3.3V</text><text x="23.5" y="40.6" class="w">GND</text><text x="23.5" y="52.2">RESET</text><text x="23.5" y="63.8">I2C SCL</text><text x="23.5" y="75.4">I2C SDA</text><text x="23.5" y="87">SPI CLK</text><text x="23.5" y="98.6">SPI MISO</text><text x="23.5" y="110.2">SPI MOSI</text><text x="23.5" y="121.8">SPI CS</text><text x="23.5" y="133.4">INT</text><text x="23.5" y="145">SPARE</text><text x="23.5" y="156.6">SPARE</text><text x="23.5" y="168.2">SPARE</text><text x="23.5" y="179.8">1</text><text x="23.5" y="191.4">2</text><text x="23.5" y="203">3</text><text x="23.5" y="214.6">4</text>
<text x="57.05" y="5.8">#<tspan x="57.05" dy="11.6">1</tspan><tspan x="57.05" dy="11.6">2</tspan><tspan x="57.05" dy="11.6">3</tspan><tspan x="57.05" dy="11.6">4</tspan><tspan x="57.05" dy="11.6">5</tspan><tspan x="57.05" dy="11.6">6</tspan><tspan x="57.05" dy="11.6">7</tspan><tspan x="57.05" dy="11.6">8</tspan><tspan x="57.05" dy="11.6">9</tspan><tspan x="57.05" dy="11.6">10</tspan><tspan x="57.05" dy="11.6">11</tspan><tspan x="57.05" dy="11.6">12</tspan><tspan x="57.05" dy="11.6">13</tspan><tspan x="57.05" dy="11.6">14</tspan><tspan x="57.05" dy="11.6">15</tspan><tspan x="57.05" dy="11.6">16</tspan><tspan x="57.05" dy="11.6">17</tspan><tspan x="57.05" dy="11.6">18</tspan></text>
<text x="124.4" y="49.1" class="sans tpk" style="font-size:13px">EXT1</text>
<text x="124.4" y="86.4">EXTENSION MODULE #1</text>
<text x="124.4" y="108.9">ETHERNET,</text><text x="124.4" y="120.2">1WIRE,</text><text x="124.4" y="131.4">RS485/DMX-512,</text><text x="124.4" y="142.9">CAN,</text><text x="124.4" y="154.3">IR,</text><text x="124.4" y="167.2">...</text>
<path class="lr" d="M-13.8 17.4H0M-13.8 29H0"/>
<rect class="r" x="-53.8" y="12.6" width="40" height="9.6"/><text x="-33.8" y="17.4" class="w">+5V</text>
<rect class="r" x="-53.8" y="24.2" width="40" height="9.6"/><text x="-33.8" y="29" class="w">+3.3V</text>
<path d="M-14.5 52.2H0M-14.5 121.8H0M-14.5 133.4H0" stroke="#000" stroke-width="1.5"/>
<rect class="lab" x="-53.1" y="48.2" width="38.6" height="8"/><text x="-33.8" y="52.2" class="s6">EN</text>
<rect class="lab" x="-53.1" y="118" width="38.6" height="7.6"/><text x="-33.8" y="121.8" class="s6">CS_1</text>
<rect class="lab" x="-53.1" y="129.4" width="38.6" height="8"/><text x="-33.8" y="133.4" class="s6">INT_1</text>
<path class="lb" d="M-89.6 61.5H-76.9M-89.6 78.6H-76.9M-76.9 61.5L-60.1 70.2H-11.2M0 63.8H-11.2V75.4H0"/>
<rect class="bu" x="-137.7" y="56.8" width="48.1" height="9.9"/><text x="-113.6" y="61.7" class="bd">I2C1</text>
<rect class="bu" x="-137.7" y="73.7" width="48.1" height="9.6"/><text x="-113.6" y="78.5" class="bd">I2C2</text>
<circle class="cb" cx="-76.9" cy="61.5" r="2.9"/><circle class="cb" cx="-76.9" cy="70.2" r="2.9"/><circle class="cb" cx="-76.9" cy="78.6" r="2.9"/><circle class="cb" cx="-60.1" cy="70.2" r="2.9"/>
<path class="lg" d="M-88.9 90.4H-76.9M-88.9 107.5H-76.9M-76.9 90.4L-60.1 99H-11.2M0 87H-11.2V110.2H0M-11.2 98.6H0"/>
<rect class="gn" x="-137.7" y="85.7" width="48.8" height="9.8"/><text x="-113.3" y="90.6" class="bd">SPI0</text>
<rect class="gn" x="-137.7" y="102.6" width="48.8" height="10.1"/><text x="-113.3" y="107.6" class="bd">SPI1</text>
<circle class="cg" cx="-76.9" cy="90.4" r="2.9"/><circle class="cg" cx="-76.9" cy="99" r="2.9"/><circle class="cg" cx="-76.9" cy="107.5" r="2.9"/><circle class="cg" cx="-60.1" cy="99" r="2.9"/>
<path class="lp" d="M0 179.8H-11.7M0 191.4H-11.7M0 203H-11.7M0 214.6H-11.7M-11.7 179.8V232H196.5V60.6M196.5 60.6H210.2M196.5 72.2H210.2M196.5 83.8H210.2M196.5 95.4H210.2"/>
<rect class="tb" x="210.2" y="43.2" width="94.6" height="58"/>
<rect class="gy" x="210.2" y="43.2" width="94.6" height="11.6"/>
<path class="lp" d="M210.2 54.8H304.8M210.2 66.4H304.8M210.2 78H304.8M210.2 89.6H304.8M257.3 43.2V101.2"/>
<rect class="ot" x="210.2" y="43.2" width="94.6" height="58"/>
<text x="233.75" y="49">X</text><text x="281" y="49">EXT1</text>
<text x="233.75" y="60.6">1</text><text x="281" y="60.6">1</text>
<text x="233.75" y="72.2">2</text><text x="281" y="72.2">2</text>
<text x="233.75" y="83.8">3</text><text x="281" y="83.8">3</text>
<text x="233.75" y="95.4">4</text><text x="281" y="95.4">4</text>
</g>

<!-- EXT2 -->
<g transform="translate(945.2,460.6)">
<rect class="tb" width="67.1" height="220.4"/>
<rect class="gy" width="47" height="11.6"/>
<rect class="r" y="11.6" width="47" height="23.2"/>
<rect class="k" y="34.8" width="47" height="11.6"/>
<rect class="bu" y="58" width="47" height="23.2"/>
<rect class="gn" y="81.2" width="47" height="46.4"/>
<rect width="67.1" height="221.2" fill="url(#rows)"/>
<path class="lp" d="M47 0V220.4"/>
<rect class="ot" width="67.1" height="220.4"/>
<rect class="pk" x="68.1" y="0" width="113.4" height="222.8"/>
<text x="23.5" y="5.8" class="tr sans">EXT2</text>
<text x="23.5" y="17.4" class="w">+5V</text><text x="23.5" y="29" class="w">+3.3V</text><text x="23.5" y="40.6" class="w">GND</text><text x="23.5" y="52.2">RESET</text><text x="23.5" y="63.8">I2C SCL</text><text x="23.5" y="75.4">I2C SDA</text><text x="23.5" y="87">SPI CLK</text><text x="23.5" y="98.6">SPI MISO</text><text x="23.5" y="110.2">SPI MOSI</text><text x="23.5" y="121.8">SPI CS</text><text x="23.5" y="133.4">INT</text><text x="23.5" y="145">SPARE</text><text x="23.5" y="156.6">SPARE</text><text x="23.5" y="168.2">SPARE</text><text x="23.5" y="179.8">1</text><text x="23.5" y="191.4">2</text><text x="23.5" y="203">3</text><text x="23.5" y="214.6">4</text>
<text x="57.05" y="5.8">#<tspan x="57.05" dy="11.6">1</tspan><tspan x="57.05" dy="11.6">2</tspan><tspan x="57.05" dy="11.6">3</tspan><tspan x="57.05" dy="11.6">4</tspan><tspan x="57.05" dy="11.6">5</tspan><tspan x="57.05" dy="11.6">6</tspan><tspan x="57.05" dy="11.6">7</tspan><tspan x="57.05" dy="11.6">8</tspan><tspan x="57.05" dy="11.6">9</tspan><tspan x="57.05" dy="11.6">10</tspan><tspan x="57.05" dy="11.6">11</tspan><tspan x="57.05" dy="11.6">12</tspan><tspan x="57.05" dy="11.6">13</tspan><tspan x="57.05" dy="11.6">14</tspan><tspan x="57.05" dy="11.6">15</tspan><tspan x="57.05" dy="11.6">16</tspan><tspan x="57.05" dy="11.6">17</tspan><tspan x="57.05" dy="11.6">18</tspan></text>
<text x="124.4" y="48.8" class="sans tpk" style="font-size:13px">EXT2</text>
<text x="124.4" y="85.6">EXTENSION MODULE #1</text>
<text x="124.4" y="108.2">ETHERNET,</text><text x="124.4" y="119.9">1WIRE,</text><text x="124.4" y="130.9">RS485/DMX-512,</text><text x="124.4" y="142">CAN,</text><text x="124.4" y="153.7">IR,</text><text x="124.4" y="166.1">...</text>
<path class="lr" d="M-13.8 17.4H0M-13.8 29H0"/>
<rect class="r" x="-53.8" y="12.6" width="40" height="9.6"/><text x="-33.8" y="17.4" class="w">+5V</text>
<rect class="r" x="-53.8" y="24.2" width="40" height="9.6"/><text x="-33.8" y="29" class="w">+3.3V</text>
<path d="M-14.5 52.2H0M-14.5 121.8H0M-14.5 133.4H0" stroke="#000" stroke-width="1.5"/>
<rect class="lab" x="-53.1" y="48.2" width="38.6" height="8"/><text x="-33.8" y="52.2" class="s6">EN</text>
<rect class="lab" x="-53.1" y="118" width="38.6" height="7.6"/><text x="-33.8" y="121.8" class="s6">CS_2</text>
<rect class="lab" x="-53.1" y="129.4" width="38.6" height="8"/><text x="-33.8" y="133.4" class="s6">INT_2</text>
<path class="lb" d="M-89.6 61.5H-76.9M-89.6 78.6H-76.9M-76.9 61.5L-60.1 70.2H-11.2M0 63.8H-11.2V75.4H0"/>
<rect class="bu" x="-137.7" y="56.8" width="48.1" height="9.9"/><text x="-113.6" y="61.7" class="bd">I2C1</text>
<rect class="bu" x="-137.7" y="73.7" width="48.1" height="9.6"/><text x="-113.6" y="78.5" class="bd">I2C2</text>
<circle class="cb" cx="-76.9" cy="61.5" r="2.9"/><circle class="cb" cx="-76.9" cy="70.2" r="2.9"/><circle class="cb" cx="-76.9" cy="78.6" r="2.9"/><circle class="cb" cx="-60.1" cy="70.2" r="2.9"/>
<path class="lg" d="M-88.9 90.4H-76.9M-88.9 107.5H-76.9M-76.9 90.4L-60.1 99H-11.2M0 87H-11.2V110.2H0M-11.2 98.6H0"/>
<rect class="gn" x="-137.7" y="85.7" width="48.8" height="9.8"/><text x="-113.3" y="90.6" class="bd">SPI0</text>
<rect class="gn" x="-137.7" y="102.6" width="48.8" height="10.1"/><text x="-113.3" y="107.6" class="bd">SPI1</text>
<circle class="cg" cx="-76.9" cy="90.4" r="2.9"/><circle class="cg" cx="-76.9" cy="99" r="2.9"/><circle class="cg" cx="-76.9" cy="107.5" r="2.9"/><circle class="cg" cx="-60.1" cy="99" r="2.9"/>
<path class="lp" d="M0 179.8H-11.7M0 191.4H-11.7M0 203H-11.7M0 214.6H-11.7M-11.7 179.8V231H196.5V60.6M196.5 60.6H210.2M196.5 72.2H210.2M196.5 83.8H210.2M196.5 95.4H210.2"/>
<rect class="tb" x="210.2" y="43.2" width="94.6" height="58"/>
<rect class="gy" x="210.2" y="43.2" width="94.6" height="11.6"/>
<path class="lp" d="M210.2 54.8H304.8M210.2 66.4H304.8M210.2 78H304.8M210.2 89.6H304.8M257.3 43.2V101.2"/>
<rect class="ot" x="210.2" y="43.2" width="94.6" height="58"/>
<text x="233.75" y="49">X</text><text x="281" y="49">EXT2</text>
<text x="233.75" y="60.6">1</text><text x="281" y="60.6">1</text>
<text x="233.75" y="72.2">2</text><text x="281" y="72.2">2</text>
<text x="233.75" y="83.8">3</text><text x="281" y="83.8">3</text>
<text x="233.75" y="95.4">4</text><text x="281" y="95.4">4</text>
</g>

<!-- EXT3 -->
<g transform="translate(945.2,703.4)">
<rect class="tb" width="67.1" height="220.4"/>
<rect class="gy" width="47" height="11.6"/>
<rect class="r" y="11.6" width="47" height="23.2"/>
<rect class="k" y="34.8" width="47" height="11.6"/>
<rect class="bu" y="58" width="47" height="23.2"/>
<rect class="gn" y="81.2" width="47" height="46.4"/>
<rect width="67.1" height="221.2" fill="url(#rows)"/>
<path class="lp" d="M47 0V220.4"/>
<rect class="ot" width="67.1" height="220.4"/>
<rect class="pk" x="68.1" y="0" width="113.4" height="222.8"/>
<text x="23.5" y="5.8" class="tr sans">EXT3</text>
<text x="23.5" y="17.4" class="w">+5V</text><text x="23.5" y="29" class="w">+3.3V</text><text x="23.5" y="40.6" class="w">GND</text><text x="23.5" y="52.2">RESET</text><text x="23.5" y="63.8">I2C SCL</text><text x="23.5" y="75.4">I2C SDA</text><text x="23.5" y="87">SPI CLK</text><text x="23.5" y="98.6">SPI MISO</text><text x="23.5" y="110.2">SPI MOSI</text><text x="23.5" y="121.8">SPI CS</text><text x="23.5" y="133.4">INT</text><text x="23.5" y="145">SPARE</text><text x="23.5" y="156.6">SPARE</text><text x="23.5" y="168.2">SPARE</text><text x="23.5" y="179.8">1</text><text x="23.5" y="191.4">2</text><text x="23.5" y="203">3</text><text x="23.5" y="214.6">4</text>
<text x="57.05" y="5.8">#<tspan x="57.05" dy="11.6">1</tspan><tspan x="57.05" dy="11.6">2</tspan><tspan x="57.05" dy="11.6">3</tspan><tspan x="57.05" dy="11.6">4</tspan><tspan x="57.05" dy="11.6">5</tspan><tspan x="57.05" dy="11.6">6</tspan><tspan x="57.05" dy="11.6">7</tspan><tspan x="57.05" dy="11.6">8</tspan><tspan x="57.05" dy="11.6">9</tspan><tspan x="57.05" dy="11.6">10</tspan><tspan x="57.05" dy="11.6">11</tspan><tspan x="57.05" dy="11.6">12</tspan><tspan x="57.05" dy="11.6">13</tspan><tspan x="57.05" dy="11.6">14</tspan><tspan x="57.05" dy="11.6">15</tspan><tspan x="57.05" dy="11.6">16</tspan><tspan x="57.05" dy="11.6">17</tspan><tspan x="57.05" dy="11.6">18</tspan></text>
<text x="124.4" y="71.3" class="sans tpk" style="font-size:13px">EXT3</text>
<text x="124.4" y="108.4">EXTENSION MODULE #3</text>
<text x="124.4" y="131.1">ETHERNET,</text><text x="124.4" y="142.4">RF433,</text><text x="124.4" y="155.8">...</text>
<path class="lr" d="M-13.8 17.4H0M-13.8 29H0"/>
<rect class="r" x="-53.8" y="12.6" width="40" height="9.6"/><text x="-33.8" y="17.4" class="w">+5V</text>
<rect class="r" x="-53.8" y="24.2" width="40" height="9.6"/><text x="-33.8" y="29" class="w">+3.3V</text>
<path d="M-14.5 52.2H0M-14.5 121.8H0M-14.5 133.4H0" stroke="#000" stroke-width="1.5"/>
<rect class="lab" x="-53.1" y="48.2" width="38.6" height="8"/><text x="-33.8" y="52.2" class="s6">EN</text>
<rect class="lab" x="-53.1" y="118" width="38.6" height="7.6"/><text x="-33.8" y="121.8" class="s6">CS_3</text>
<rect class="lab" x="-53.1" y="129.4" width="38.6" height="8"/><text x="-33.8" y="133.4" class="s6">INT_3</text>
<path class="lb" d="M-89.6 61.5H-76.9M-89.6 78.6H-76.9M-76.9 61.5L-60.1 70.2H-11.2M0 63.8H-11.2V75.4H0"/>
<rect class="bu" x="-137.7" y="56.8" width="48.1" height="9.9"/><text x="-113.6" y="61.7" class="bd">I2C1</text>
<rect class="bu" x="-137.7" y="73.7" width="48.1" height="9.6"/><text x="-113.6" y="78.5" class="bd">I2C2</text>
<circle class="cb" cx="-76.9" cy="61.5" r="2.9"/><circle class="cb" cx="-76.9" cy="70.2" r="2.9"/><circle class="cb" cx="-76.9" cy="78.6" r="2.9"/><circle class="cb" cx="-60.1" cy="70.2" r="2.9"/>
<path class="lg" d="M-88.9 90.4H-76.9M-88.9 107.5H-76.9M-76.9 90.4L-60.1 99H-11.2M0 87H-11.2V110.2H0M-11.2 98.6H0"/>
<rect class="gn" x="-137.7" y="85.7" width="48.8" height="9.8"/><text x="-113.3" y="90.6" class="bd">SPI0</text>
<rect class="gn" x="-137.7" y="102.6" width="48.8" height="10.1"/><text x="-113.3" y="107.6" class="bd">SPI1</text>
<circle class="cg" cx="-76.9" cy="90.4" r="2.9"/><circle class="cg" cx="-76.9" cy="99" r="2.9"/><circle class="cg" cx="-76.9" cy="107.5" r="2.9"/><circle class="cg" cx="-60.1" cy="99" r="2.9"/>
</g>

<!-- Module: ETHERNET -->
<g transform="translate(1270.1,49.8)">
<rect class="tb" width="66.9" height="220.4"/>
<rect class="gy" width="45.8" height="11.6"/>
<rect class="r" y="23.2" width="45.8" height="11.6"/>
<rect class="k" y="34.8" width="45.8" height="11.6"/>
<rect class="gn" y="81.2" width="45.8" height="46.4"/>
<rect width="66.9" height="221.2" fill="url(#rows)"/>
<path class="lp" d="M45.8 0V220.4"/>
<rect class="ot" width="66.9" height="220.4"/>
<rect class="pk" x="67.6" y="-0.5" width="58.8" height="222.5"/>
<text x="22.9" y="5.8" class="tr sans">EXT1,2,3</text>
<text x="22.9" y="29" class="w">+3.3V</text><text x="22.9" y="40.6" class="w">GND</text><text x="22.9" y="52.2">RESET</text><text x="22.9" y="87">SPI CLK</text><text x="22.9" y="98.6">SPI MISO</text><text x="22.9" y="110.2">SPI MOSI</text><text x="22.9" y="121.8">SPI CS</text><text x="22.9" y="133.4">INT</text>
<text x="56.35" y="5.8">#<tspan x="56.35" dy="11.6">1</tspan><tspan x="56.35" dy="11.6">2</tspan><tspan x="56.35" dy="11.6">3</tspan><tspan x="56.35" dy="11.6">4</tspan><tspan x="56.35" dy="11.6">5</tspan><tspan x="56.35" dy="11.6">6</tspan><tspan x="56.35" dy="11.6">7</tspan><tspan x="56.35" dy="11.6">8</tspan><tspan x="56.35" dy="11.6">9</tspan><tspan x="56.35" dy="11.6">10</tspan><tspan x="56.35" dy="11.6">11</tspan><tspan x="56.35" dy="11.6">12</tspan><tspan x="56.35" dy="11.6">13</tspan><tspan x="56.35" dy="11.6">14</tspan><tspan x="56.35" dy="11.6">15</tspan><tspan x="56.35" dy="11.6">16</tspan><tspan x="56.35" dy="11.6">17</tspan><tspan x="56.35" dy="11.6">18</tspan></text>
<text x="97" y="93.8">EXTENSION</text><text x="97" y="105.1">MODULE</text><text x="97" y="127.9">ETHERNET</text>
<rect class="tb" x="91.4" y="164.9" width="37.5" height="43.5"/><text x="110.1" y="186.6">RG45</text>
</g>

<!-- Module: 1WIRE -->
<g transform="translate(1412.8,49.8)">
<rect class="tb" width="67.1" height="220.4"/>
<rect class="gy" width="45.5" height="11.6"/>
<rect class="r" y="11.6" width="45.5" height="23.2"/>
<rect class="k" y="34.8" width="45.5" height="11.6"/>
<rect class="bu" y="58" width="45.5" height="23.2"/>
<rect class="r" y="174" width="45.5" height="11.6"/>
<rect class="k" y="208.8" width="45.5" height="11.6"/>
<rect width="67.1" height="221.2" fill="url(#rows)"/>
<path class="lp" d="M45.5 0V220.4"/>
<rect class="ot" width="67.1" height="220.4"/>
<rect class="pk" x="67.6" y="-0.5" width="66.3" height="222.5"/>
<text x="22.75" y="5.8" class="tr sans">EXT1,2</text>
<text x="22.75" y="17.4" class="w">+5V</text><text x="22.75" y="29" class="w">+3.3V</text><text x="22.75" y="40.6" class="w">GND</text><text x="22.75" y="63.8">I2C SCL</text><text x="22.75" y="75.4">I2C SDA</text><text x="22.75" y="179.8" class="w">+5V OUT</text><text x="22.75" y="203">1W</text><text x="22.75" y="214.6" class="w">GND</text>
<text x="56.3" y="5.8">#<tspan x="56.3" dy="11.6">1</tspan><tspan x="56.3" dy="11.6">2</tspan><tspan x="56.3" dy="11.6">3</tspan><tspan x="56.3" dy="11.6">4</tspan><tspan x="56.3" dy="11.6">5</tspan><tspan x="56.3" dy="11.6">6</tspan><tspan x="56.3" dy="11.6">7</tspan><tspan x="56.3" dy="11.6">8</tspan><tspan x="56.3" dy="11.6">9</tspan><tspan x="56.3" dy="11.6">10</tspan><tspan x="56.3" dy="11.6">11</tspan><tspan x="56.3" dy="11.6">12</tspan><tspan x="56.3" dy="11.6">13</tspan><tspan x="56.3" dy="11.6">14</tspan><tspan x="56.3" dy="11.6">15</tspan><tspan x="56.3" dy="11.6">16</tspan><tspan x="56.3" dy="11.6">17</tspan><tspan x="56.3" dy="11.6">18</tspan></text>
<text x="100.7" y="93.8">EXTENSION</text><text x="100.7" y="105.1">MODULE</text><text x="100.7" y="127.9">1WIRE</text>
</g>

<!-- Module: CAN -->
<g transform="translate(1270.1,298.5)">
<rect class="tb" width="66.9" height="220.4"/>
<rect class="gy" width="45.8" height="11.6"/>
<rect class="r" y="11.6" width="45.8" height="23.2"/>
<rect class="k" y="34.8" width="45.8" height="11.6"/>
<rect class="gn" y="81.2" width="45.8" height="46.4"/>
<rect class="k" y="208.8" width="45.8" height="11.6"/>
<rect width="66.9" height="221.2" fill="url(#rows)"/>
<path class="lp" d="M45.8 0V220.4"/>
<rect class="ot" width="66.9" height="220.4"/>
<rect class="pk" x="67.6" y="-0.5" width="58.8" height="222.5"/>
<text x="22.9" y="5.8" class="tr sans">EXT1,2</text>
<text x="22.9" y="17.4" class="w">+5V</text><text x="22.9" y="29" class="w">+3.3V</text><text x="22.9" y="40.6" class="w">GND</text><text x="22.9" y="87">SPI CLK</text><text x="22.9" y="98.6">SPI MISO</text><text x="22.9" y="110.2">SPI MOSI</text><text x="22.9" y="121.8">SPI CS</text><text x="22.9" y="191.4">H</text><text x="22.9" y="203">L</text><text x="22.9" y="214.6" class="w">GND</text>
<text x="56.35" y="5.8">#<tspan x="56.35" dy="11.6">1</tspan><tspan x="56.35" dy="11.6">2</tspan><tspan x="56.35" dy="11.6">3</tspan><tspan x="56.35" dy="11.6">4</tspan><tspan x="56.35" dy="11.6">5</tspan><tspan x="56.35" dy="11.6">6</tspan><tspan x="56.35" dy="11.6">7</tspan><tspan x="56.35" dy="11.6">8</tspan><tspan x="56.35" dy="11.6">9</tspan><tspan x="56.35" dy="11.6">10</tspan><tspan x="56.35" dy="11.6">11</tspan><tspan x="56.35" dy="11.6">12</tspan><tspan x="56.35" dy="11.6">13</tspan><tspan x="56.35" dy="11.6">14</tspan><tspan x="56.35" dy="11.6">15</tspan><tspan x="56.35" dy="11.6">16</tspan><tspan x="56.35" dy="11.6">17</tspan><tspan x="56.35" dy="11.6">18</tspan></text>
<text x="97" y="93.5">EXTENSION</text><text x="97" y="104.8">MODULE</text><text x="97" y="127.6">CAN</text>
</g>

<!-- Module: IR -->
<g transform="translate(1412.8,298.5)">
<rect class="tb" width="67.1" height="220.4"/>
<rect class="gy" width="45.5" height="11.6"/>
<rect class="r" y="11.6" width="45.5" height="23.2"/>
<rect class="k" y="34.8" width="45.5" height="11.6"/>
<rect class="r" y="174" width="45.5" height="11.6"/>
<rect class="k" y="208.8" width="45.5" height="11.6"/>
<rect width="67.1" height="221.2" fill="url(#rows)"/>
<path class="lp" d="M45.5 0V220.4"/>
<rect class="ot" width="67.1" height="220.4"/>
<rect class="pk" x="67.6" y="-0.5" width="66.3" height="222.5"/>
<text x="22.75" y="5.8" class="tr sans">EXT1,2</text>
<text x="22.75" y="17.4" class="w">+5V</text><text x="22.75" y="29" class="w">+3.3V</text><text x="22.75" y="40.6" class="w">GND</text><text x="22.75" y="121.8">RX</text><text x="22.75" y="133.4">TX</text><text x="22.75" y="179.8" class="w">+5V OUT</text><text x="22.75" y="191.4">RX</text><text x="22.75" y="203">TX</text><text x="22.75" y="214.6" class="w">GND</text>
<text x="56.3" y="5.8">#<tspan x="56.3" dy="11.6">1</tspan><tspan x="56.3" dy="11.6">2</tspan><tspan x="56.3" dy="11.6">3</tspan><tspan x="56.3" dy="11.6">4</tspan><tspan x="56.3" dy="11.6">5</tspan><tspan x="56.3" dy="11.6">6</tspan><tspan x="56.3" dy="11.6">7</tspan><tspan x="56.3" dy="11.6">8</tspan><tspan x="56.3" dy="11.6">9</tspan><tspan x="56.3" dy="11.6">10</tspan><tspan x="56.3" dy="11.6">11</tspan><tspan x="56.3" dy="11.6">12</tspan><tspan x="56.3" dy="11.6">13</tspan><tspan x="56.3" dy="11.6">14</tspan><tspan x="56.3" dy="11.6">15</tspan><tspan x="56.3" dy="11.6">16</tspan><tspan x="56.3" dy="11.6">17</tspan><tspan x="56.3" dy="11.6">18</tspan></text>
<text x="100.7" y="93.5">EXTENSION</text><text x="100.7" y="104.8">MODULE</text><text x="100.7" y="127.6">IR</text>
</g>

<!-- Module: MODEM -->
<g transform="translate(1270.1,539.5)">
<rect class="tb" width="66.9" height="220.4"/>
<rect class="gy" width="45.8" height="11.6"/>
<rect class="r" y="11.6" width="45.8" height="23.2"/>
<rect class="k" y="34.8" width="45.8" height="11.6"/>
<rect class="bu" y="58" width="45.8" height="23.2"/>
<rect class="gn" y="81.2" width="45.8" height="46.4"/>
<rect width="66.9" height="221.2" fill="url(#rows)"/>
<path class="lp" d="M45.8 0V220.4"/>
<rect class="ot" width="66.9" height="220.4"/>
<rect class="pk" x="67.6" y="-0.5" width="58.8" height="222.5"/>
<text x="22.9" y="5.8" class="tr sans">EXT1,2,3</text>
<text x="22.9" y="17.4" class="w">+5V</text><text x="22.9" y="29" class="w">+3.3V</text><text x="22.9" y="40.6" class="w">GND</text><text x="22.9" y="52.2">RESET</text><text x="22.9" y="63.8">I2C SCL</text><text x="22.9" y="75.4">I2C SDA</text><text x="22.9" y="87">SPI CLK</text><text x="22.9" y="98.6">SPI MISO</text><text x="22.9" y="110.2">SPI MOSI</text><text x="22.9" y="121.8">SPI CS</text><text x="22.9" y="133.4">INT</text>
<text x="56.35" y="5.8">#<tspan x="56.35" dy="11.6">1</tspan><tspan x="56.35" dy="11.6">2</tspan><tspan x="56.35" dy="11.6">3</tspan><tspan x="56.35" dy="11.6">4</tspan><tspan x="56.35" dy="11.6">5</tspan><tspan x="56.35" dy="11.6">6</tspan><tspan x="56.35" dy="11.6">7</tspan><tspan x="56.35" dy="11.6">8</tspan><tspan x="56.35" dy="11.6">9</tspan><tspan x="56.35" dy="11.6">10</tspan><tspan x="56.35" dy="11.6">11</tspan><tspan x="56.35" dy="11.6">12</tspan><tspan x="56.35" dy="11.6">13</tspan><tspan x="56.35" dy="11.6">14</tspan><tspan x="56.35" dy="11.6">15</tspan><tspan x="56.35" dy="11.6">16</tspan><tspan x="56.35" dy="11.6">17</tspan><tspan x="56.35" dy="11.6">18</tspan></text>
<text x="97" y="93.1">EXTENSION</text><text x="97" y="104.4">MODULE</text><text x="97" y="126.7">MODEM</text>
<rect class="tb" x="91.4" y="149" width="37.5" height="45"/><text x="110.1" y="171.5">ANT</text>
</g>

<!-- Module: RF433 -->
<g transform="translate(1414,538.3)">
<rect class="tb" width="67.2" height="220.4"/>
<rect class="gy" width="45.8" height="11.6"/>
<rect class="r" y="11.6" width="45.8" height="23.2"/>
<rect class="k" y="34.8" width="45.8" height="11.6"/>
<rect class="gn" y="81.2" width="45.8" height="46.4"/>
<rect width="67.2" height="221.2" fill="url(#rows)"/>
<path class="lp" d="M45.8 0V220.4"/>
<rect class="ot" width="67.2" height="220.4"/>
<rect class="pk" x="67.6" y="-0.5" width="58.8" height="222.5"/>
<text x="22.9" y="5.8" class="tr sans">EXT1,2,3</text>
<text x="22.9" y="17.4" class="w">+5V</text><text x="22.9" y="29" class="w">+3.3V</text><text x="22.9" y="40.6" class="w">GND</text><text x="22.9" y="52.2">RESET</text><text x="22.9" y="87">SPI CLK</text><text x="22.9" y="98.6">SPI MISO</text><text x="22.9" y="110.2">SPI MOSI</text><text x="22.9" y="121.8">SPI CS</text><text x="22.9" y="133.4">INT</text>
<text x="56.5" y="5.8">#<tspan x="56.5" dy="11.6">1</tspan><tspan x="56.5" dy="11.6">2</tspan><tspan x="56.5" dy="11.6">3</tspan><tspan x="56.5" dy="11.6">4</tspan><tspan x="56.5" dy="11.6">5</tspan><tspan x="56.5" dy="11.6">6</tspan><tspan x="56.5" dy="11.6">7</tspan><tspan x="56.5" dy="11.6">8</tspan><tspan x="56.5" dy="11.6">9</tspan><tspan x="56.5" dy="11.6">10</tspan><tspan x="56.5" dy="11.6">11</tspan><tspan x="56.5" dy="11.6">12</tspan><tspan x="56.5" dy="11.6">13</tspan><tspan x="56.5" dy="11.6">14</tspan><tspan x="56.5" dy="11.6">15</tspan><tspan x="56.5" dy="11.6">16</tspan><tspan x="56.5" dy="11.6">17</tspan><tspan x="56.5" dy="11.6">18</tspan></text>
<text x="96.4" y="93.1">EXTENSION</text><text x="96.4" y="104.4">MODULE</text><text x="96.4" y="127.2">RF433</text>
<rect class="tb" x="91.9" y="150.2" width="37.5" height="44.5"/><text x="110.6" y="172.4">ANT</text>
</g>

<!-- Module: RS485/DMX -->
<g transform="translate(1270.1,780)">
<rect class="tb" width="66.9" height="220.4"/>
<rect class="gy" width="45.8" height="11.6"/>
<rect class="r" y="11.6" width="45.8" height="23.2"/>
<rect class="k" y="34.8" width="45.8" height="11.6"/>
<rect class="gn" y="81.2" width="45.8" height="46.4"/>
<rect class="k" y="208.8" width="45.8" height="11.6"/>
<rect width="66.9" height="221.2" fill="url(#rows)"/>
<path class="lp" d="M45.8 0V220.4"/>
<rect class="ot" width="66.9" height="220.4"/>
<rect class="pk" x="67.6" y="-0.5" width="58.8" height="222.5"/>
<text x="22.9" y="5.8" class="tr sans">EXT1,2</text>
<text x="22.9" y="17.4" class="w">+5V</text><text x="22.9" y="29" class="w">+3.3V</text><text x="22.9" y="40.6" class="w">GND</text><text x="22.9" y="87">SPI CLK</text><text x="22.9" y="98.6">SPI MISO</text><text x="22.9" y="110.2">SPI MOSI</text><text x="22.9" y="121.8">SPI CS</text><text x="22.9" y="191.4">A</text><text x="22.9" y="203">B</text><text x="22.9" y="214.6" class="w">GND</text>
<text x="56.35" y="5.8">#<tspan x="56.35" dy="11.6">1</tspan><tspan x="56.35" dy="11.6">2</tspan><tspan x="56.35" dy="11.6">3</tspan><tspan x="56.35" dy="11.6">4</tspan><tspan x="56.35" dy="11.6">5</tspan><tspan x="56.35" dy="11.6">6</tspan><tspan x="56.35" dy="11.6">7</tspan><tspan x="56.35" dy="11.6">8</tspan><tspan x="56.35" dy="11.6">9</tspan><tspan x="56.35" dy="11.6">10</tspan><tspan x="56.35" dy="11.6">11</tspan><tspan x="56.35" dy="11.6">12</tspan><tspan x="56.35" dy="11.6">13</tspan><tspan x="56.35" dy="11.6">14</tspan><tspan x="56.35" dy="11.6">15</tspan><tspan x="56.35" dy="11.6">16</tspan><tspan x="56.35" dy="11.6">17</tspan><tspan x="56.35" dy="11.6">18</tspan></text>
<text x="97" y="93.3">EXTENSION</text><text x="97" y="104.5">MODULE</text><text x="97" y="127.3">RG485/DMX</text>
</g>
</svg>
</body></html>
